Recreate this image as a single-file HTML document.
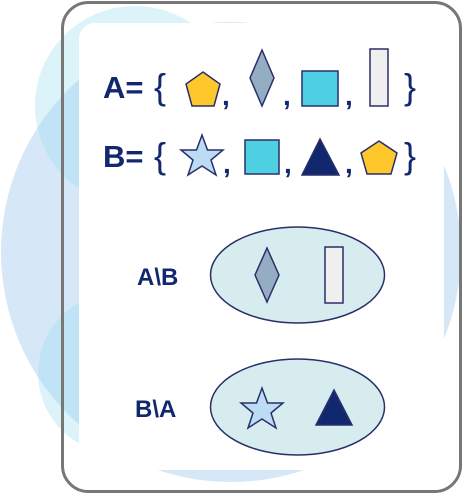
<!DOCTYPE html>
<html><head><meta charset="utf-8"><style>
html,body{margin:0;padding:0;background:#fff}
svg{display:block}
text{font-family:"Liberation Sans","DejaVu Sans",sans-serif;font-weight:bold;fill:#12286e}
text.br{font-weight:normal}
</style></head><body>
<svg width="463" height="494" viewBox="0 0 463 494">
<g>
<circle cx="231" cy="252" r="230" fill="#d6e8f7"/>
<circle cx="135" cy="106" r="100" fill="#dcf3f9"/>
<circle cx="119" cy="373" r="81" fill="#dcf3f9"/>
<clipPath id="cb"><circle cx="231" cy="252" r="230"/></clipPath>
<g clip-path="url(#cb)"><circle cx="135" cy="106" r="100" fill="#c0e4f5"/><circle cx="119" cy="373" r="81" fill="#c0e4f5"/></g>
</g>
<rect x="79" y="23" width="365" height="447" rx="16" fill="#fff"/>
<rect x="62.5" y="2.5" width="398" height="489" rx="26" fill="none" stroke="#777" stroke-width="3"/>
<g stroke="#2a2f6a" stroke-width="1.5" stroke-linejoin="miter">
<g>
<text x="103" y="98" font-size="31" stroke="none">A=</text>
<text class="br" x="154" y="99" font-size="36" stroke="none">{</text>
<polygon points="203,72 220,84 214,106 192,106 186,84" fill="#fec72c"/>
<text x="222" y="105" font-size="28" stroke="none">,</text>
<polygon points="262,50 274,78 262,106 250,78" fill="#95adc2"/>
<text x="283" y="105" font-size="28" stroke="none">,</text>
<rect x="302" y="71" width="36" height="35" fill="#4fd0e2"/>
<text x="345" y="105" font-size="28" stroke="none">,</text>
<rect x="370" y="49" width="18" height="57" fill="#efefef"/>
<text class="br" x="404" y="99" font-size="36" stroke="none">}</text>
</g>
<g>
<text x="103" y="167" font-size="31" stroke="none">B=</text>
<text class="br" x="154" y="168" font-size="36" stroke="none">{</text>
<polygon points="202,135 207.5,150 223,150 211,160 216,175 202,166 188,175 193,160 181,150 196.5,150" fill="#bcdcf4"/>
<text x="223" y="173" font-size="28" stroke="none">,</text>
<rect x="245" y="140" width="34" height="34" fill="#4fd0e2"/>
<text x="284" y="173" font-size="28" stroke="none">,</text>
<polygon points="320,139 339,175 302,175" fill="#12286e"/>
<text x="345" y="173" font-size="28" stroke="none">,</text>
<polygon points="379,141 397,153 391,174 367,174 361,153" fill="#fec72c"/>
<text class="br" x="404" y="168" font-size="36" stroke="none">}</text>
</g>
<g>
<text x="137" y="285" font-size="24" stroke="none">A\B</text>
<ellipse cx="297.5" cy="275" rx="87" ry="48" fill="#d6ecef"/>
<polygon points="267,248 279,275 267,302 255,275" fill="#95adc2"/>
<rect x="325" y="247" width="18" height="56" fill="#efefef"/>
</g>
<g>
<text x="135" y="417" font-size="24" stroke="none">B\A</text>
<ellipse cx="297.5" cy="407" rx="87" ry="48" fill="#d6ecef"/>
<polygon points="262,388 267.5,403 283,403 271,413 276,428 262,419 248,428 253,413 241,403 256.5,403" fill="#bcdcf4"/>
<polygon points="334,390 352,425 316,425" fill="#12286e"/>
</g>
</g>
</svg>
</body></html>
